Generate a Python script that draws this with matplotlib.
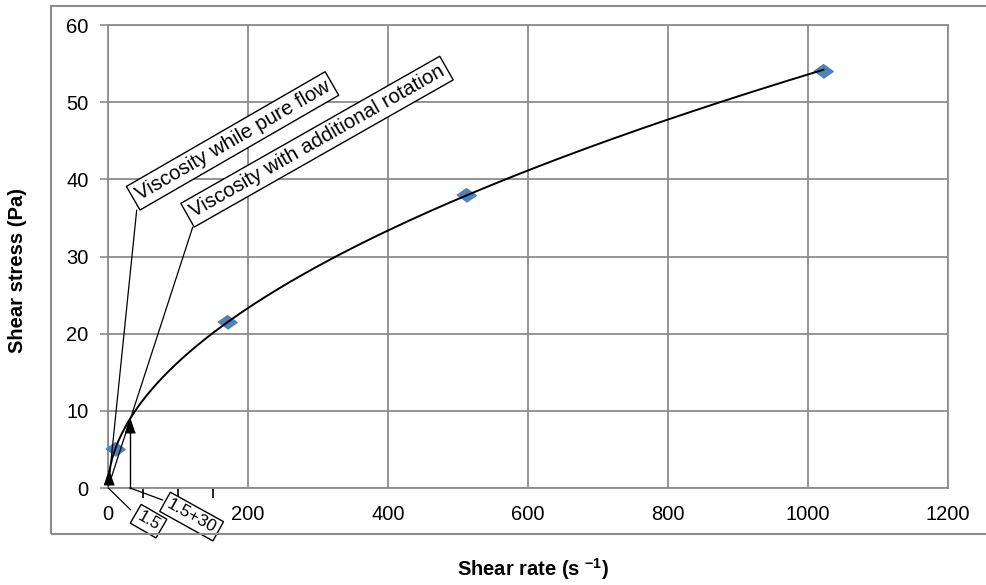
import numpy as np
import matplotlib
matplotlib.use("Agg")
import matplotlib.pyplot as plt
from matplotlib.patches import Rectangle

plt.rcParams['font.family'] = ['Liberation Sans', 'DejaVu Sans']
plt.rcParams['mathtext.fontset'] = 'custom'
plt.rcParams['mathtext.rm'] = 'Liberation Sans'
plt.rcParams['mathtext.bf'] = 'Liberation Sans:bold'

# measured points (diamonds)
shear_rate = [10.2, 170, 511, 1022]
shear_stress = [5.0, 21.5, 38.0, 54.0]

# marked rates (triangles)
marked_rate = [1.5, 31.5]
marked_stress = [1.4, 8.2]

x_ticks = [0, 200, 400, 600, 800, 1000, 1200]
y_ticks = [0, 10, 20, 30, 40, 50, 60]
minor_x = [50, 100, 150]

grid_col = '#8c8c8c'
blue = '#4f81bd'

# power-law trendline fitted to the measured points
n, lnk = np.polyfit(np.log(shear_rate), np.log(shear_stress), 1)
fit_x = np.linspace(marked_rate[0], shear_rate[-1], 400)
fit_y = np.exp(lnk) * fit_x ** n

fig = plt.figure(figsize=(9.86, 5.85), dpi=100)
ax = fig.add_axes([0.1095, 0.1658, 0.852, 0.7912])

# outer chart frame
fig.add_artist(Rectangle((0.0517, 0.0872), 1.0, 0.9025, transform=fig.transFigure,
                         fill=False, ec=grid_col, lw=1.5))

diamond = [(-1, 0), (0, 0.7), (1, 0), (0, -0.7)]
triangle = [(0, 1), (-0.67, -1), (0.67, -1)]

ax.plot(shear_rate, shear_stress, ls='none', marker=diamond, ms=14,
        color=blue, zorder=3, clip_on=False)
ax.plot(fit_x, fit_y, color='black', lw=1.4, zorder=4)
ax.plot(marked_rate, marked_stress, ls='none', marker=triangle, ms=10.5,
        color='black', zorder=5, clip_on=False)

# drop line from the second marker to the axis
ax.plot([marked_rate[1], marked_rate[1]], [marked_stress[1], 0], color='black',
        lw=1, zorder=4, clip_on=False)

# leader lines to the callouts
ax.plot([1.5, 41], [1.0, 36.0], color='black', lw=0.9, zorder=4)
ax.plot([1.0, 121], [0.3, 33.8], color='black', lw=0.9, zorder=4)
ax.plot([0.5, 32], [0.0, -2.8], color='black', lw=0.9, zorder=4, clip_on=False)
ax.plot([31.5, 78], [0.0, -1.55], color='black', lw=0.9, zorder=4, clip_on=False)

box = dict(boxstyle='square,pad=0.2', fc='white', ec='black', lw=1)
ax.text(178, 45.0, 'Viscosity while pure flow', rotation=30, rotation_mode='anchor',
        ha='center', va='center', fontsize=14.8, bbox=box, zorder=6)
ax.text(298.6, 44.9, 'Viscosity with additional rotation', rotation=29.6,
        rotation_mode='anchor', ha='center', va='center', fontsize=14.8, bbox=box, zorder=6)
ax.text(58, -4.3, '1.5', rotation=-30, rotation_mode='anchor', ha='center', va='center',
        fontsize=12, bbox=box, zorder=6, clip_on=False)
ax.text(119.5, -3.7, '1.5+30', rotation=-29, rotation_mode='anchor', ha='center',
        va='center', fontsize=12.5, bbox=box, zorder=6, clip_on=False)

ax.set_xlim(0, 1200)
ax.set_ylim(0, 60)
ax.set_xticks(x_ticks)
ax.set_yticks(y_ticks)
ax.set_xticks(minor_x, minor=True)
ax.grid(True, which='major', color=grid_col, lw=1.3)
ax.set_axisbelow(True)
for s in ax.spines.values():
    s.set_color(grid_col)
    s.set_linewidth(1.3)

ax.tick_params(axis='x', which='major', length=0, pad=12, labelsize=14.5)
ax.tick_params(axis='x', which='minor', length=7, width=1.2, color='black')
ax.tick_params(axis='y', length=6, width=1.2, color=grid_col, pad=8, labelsize=14.5)

ax.set_ylabel('Shear stress (Pa)', fontsize=14.5, fontweight='bold')
ax.yaxis.set_label_coords(-0.096, 0.47)
ax.set_xlabel('Shear rate (s $\\mathbf{^{-1}}$)', fontsize=14.5, fontweight='bold')
ax.xaxis.set_label_coords(0.506, -0.148)

fig.savefig('out.png', dpi=100)
